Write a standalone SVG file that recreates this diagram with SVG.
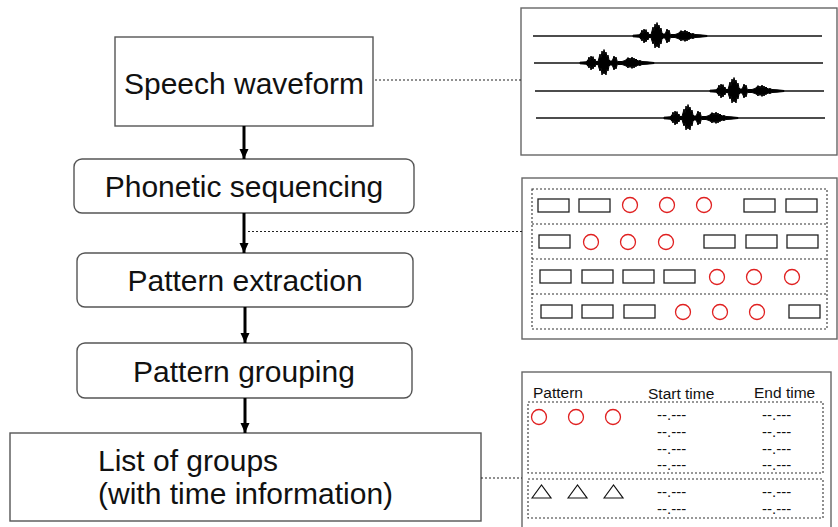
<svg xmlns="http://www.w3.org/2000/svg" width="838" height="527" viewBox="0 0 838 527">
  <style>
    .box { fill: #fff; stroke: #555; stroke-width: 1.4; }
    .panel { fill: #fff; stroke: #666; stroke-width: 1.4; }
    .label { font-family: "Liberation Sans", Arial, Helvetica, sans-serif; font-size: 30px; fill: #111; }
    .small { font-family: "Liberation Sans", Arial, Helvetica, sans-serif; font-size: 15.5px; fill: #111; }
    .time { font-family: "Liberation Sans", Arial, Helvetica, sans-serif; font-size: 15px; fill: #111; }
    .flow { stroke: #000; stroke-width: 3; fill: none; }
    .link { stroke: #222; stroke-width: 1.1; stroke-dasharray: 2 2; fill: none; }
    .group { stroke: #333; stroke-width: 1.1; stroke-dasharray: 2 2; fill: none; }
    .seg { fill: #fff; stroke: #222; stroke-width: 1.3; }
    .phon { fill: none; stroke: #e02020; stroke-width: 1.3; }
    .tri { fill: none; stroke: #111; stroke-width: 1.2; }
    .trace { stroke: #111; stroke-width: 1.4; }
  </style>
  <defs>
    <marker id="head" markerWidth="10" markerHeight="10" viewBox="0 0 10 10" refX="10" refY="5" orient="auto" markerUnits="userSpaceOnUse">
      <path d="M0,0.5 L10,5 L0,9.5 Z" fill="#000"/>
    </marker>
    <filter id="soft" x="-10%" y="-30%" width="120%" height="160%">
      <feGaussianBlur stdDeviation="0.45"/>
    </filter>
    <!-- one spoken word: four bursts with a fading tail -->
    <path id="burst" fill="#000" stroke="#000" stroke-width="1" stroke-linejoin="round" filter="url(#soft)"
      d="M-12,-0.8 L-6,-1.2 L-4,-3 L-3,-6 L-2,-2.5 L-1,-7 L0,-4 L1,-6.5 L2,-3 L3,-4 L4,-1.5 L6,-1.5 L7,-5 L8,-9 L9,-5 L10,-12 L11,-8 L12,-13.5 L13,-9 L14,-11 L15,-6 L16,-8 L17,-3 L18,-2 L20,-2 L21,-4 L22,-7 L23,-4 L24,-6 L25,-2.5 L26,-1.5 L30,-1.5 L33,-2.5 L35,-4 L36,-5.5 L37,-3.5 L38,-5 L39,-3 L40,-6 L41,-3.5 L42,-5 L43,-3 L44,-4 L46,-2 L48,-2.5 L50,-1.5 L55,-1.2 L62,-0.5
         L62,0.5 L55,1.2 L50,1.5 L48,2.5 L46,2 L44,3.5 L43,3 L42,5 L41,3 L40,5.5 L39,3 L38,4.5 L37,3 L36,5 L35,3.5 L33,2.5 L30,1.5 L26,1.5 L25,2.5 L24,6 L23,4 L22,7 L21,4 L20,2 L18,2 L17,3 L16,8 L15,6 L14,12 L13,9 L12,11 L11,8 L10,12 L9,5 L8,8 L7,5 L6,1.5 L4,1.5 L3,4 L2,3 L1,6 L0,4 L-1,7 L-2,2.5 L-3,5 L-4,3 L-6,1.2 L-12,0.8 Z"/>
  </defs>

  <rect width="838" height="527" fill="#fff"/>

  <!-- processing steps -->
  <g id="speech-waveform">
    <rect class="box" x="115" y="37" width="258" height="89"/>
    <text class="label" x="244" y="94" text-anchor="middle">Speech waveform</text>
  </g>
  <g id="phonetic-sequencing">
    <rect class="box" x="74" y="159" width="340" height="54" rx="8"/>
    <text class="label" x="244" y="197" text-anchor="middle">Phonetic sequencing</text>
  </g>
  <g id="pattern-extraction">
    <rect class="box" x="77" y="253" width="336" height="54" rx="8"/>
    <text class="label" x="245" y="291" text-anchor="middle">Pattern extraction</text>
  </g>
  <g id="pattern-grouping">
    <rect class="box" x="77" y="343" width="335" height="55" rx="8"/>
    <text class="label" x="244" y="382" text-anchor="middle">Pattern grouping</text>
  </g>
  <g id="list-of-groups">
    <rect class="box" x="10" y="433" width="471" height="88"/>
    <text class="label" x="98" y="471">List of groups</text>
    <text class="label" x="98" y="504">(with time information)</text>
  </g>

  <!-- waveform panel -->
  <g id="waveform-panel">
    <rect class="panel" x="521" y="8" width="316" height="147"/>
    <line class="trace" x1="533" y1="36" x2="822" y2="36"/>
    <line class="trace" x1="534" y1="63" x2="823" y2="63"/>
    <line class="trace" x1="535" y1="91" x2="824" y2="91"/>
    <line class="trace" x1="536" y1="118" x2="825" y2="118"/>
    <use href="#burst" x="645" y="36"/>
    <use href="#burst" x="592" y="63"/>
    <use href="#burst" x="722" y="91"/>
    <use href="#burst" x="676" y="118"/>
  </g>

  <!-- phonetic sequence panel -->
  <g id="sequence-panel">
    <rect class="panel" x="522" y="178" width="315" height="161"/>
    <rect class="group" x="532" y="189" width="295" height="140"/>
    <line class="group" x1="532" y1="224" x2="827" y2="224"/>
    <line class="group" x1="532" y1="259" x2="827" y2="259"/>
    <line class="group" x1="532" y1="294" x2="827" y2="294"/>
    <!-- row 1 -->
    <rect class="seg" x="538" y="199" width="31" height="13"/>
    <rect class="seg" x="579" y="199" width="31" height="13"/>
    <circle class="phon" cx="630" cy="205" r="7.5"/>
    <circle class="phon" cx="667" cy="205" r="7.5"/>
    <circle class="phon" cx="704" cy="205" r="7.5"/>
    <rect class="seg" x="744" y="199" width="31" height="13"/>
    <rect class="seg" x="786" y="199" width="31" height="13"/>
    <!-- row 2 -->
    <rect class="seg" x="539" y="235" width="31" height="13"/>
    <circle class="phon" cx="591" cy="242" r="7.5"/>
    <circle class="phon" cx="628" cy="242" r="7.5"/>
    <circle class="phon" cx="666" cy="242" r="7.5"/>
    <rect class="seg" x="704" y="235" width="31" height="13"/>
    <rect class="seg" x="746" y="235" width="31" height="13"/>
    <rect class="seg" x="787" y="235" width="31" height="13"/>
    <!-- row 3 -->
    <rect class="seg" x="540" y="270" width="31" height="13"/>
    <rect class="seg" x="582" y="270" width="31" height="13"/>
    <rect class="seg" x="623" y="270" width="31" height="13"/>
    <rect class="seg" x="664" y="270" width="31" height="13"/>
    <circle class="phon" cx="717" cy="277" r="7.5"/>
    <circle class="phon" cx="754" cy="277" r="7.5"/>
    <circle class="phon" cx="792" cy="277" r="7.5"/>
    <!-- row 4 -->
    <rect class="seg" x="541" y="305" width="31" height="13"/>
    <rect class="seg" x="582" y="305" width="31" height="13"/>
    <rect class="seg" x="624" y="305" width="31" height="13"/>
    <circle class="phon" cx="683" cy="312" r="7.5"/>
    <circle class="phon" cx="720" cy="312" r="7.5"/>
    <circle class="phon" cx="757" cy="312" r="7.5"/>
    <rect class="seg" x="789" y="305" width="31" height="13"/>
  </g>

  <!-- group list panel -->
  <g id="group-panel">
    <rect class="panel" x="522" y="372" width="309" height="160"/>
    <text class="small" x="533" y="398">Pattern</text>
    <text class="small" x="648" y="399">Start time</text>
    <text class="small" x="754" y="398">End time</text>
    <rect class="group" x="528" y="402" width="295" height="71"/>
    <circle class="phon" cx="539" cy="417" r="7.5"/>
    <circle class="phon" cx="576" cy="417" r="7.5"/>
    <circle class="phon" cx="613" cy="417" r="7.5"/>
    <g class="time">
      <text x="657" y="420">--.---</text>
      <text x="657" y="437">--.---</text>
      <text x="657" y="454">--.---</text>
      <text x="657" y="470">--.---</text>
      <text x="762" y="420">--.---</text>
      <text x="762" y="437">--.---</text>
      <text x="762" y="454">--.---</text>
      <text x="762" y="470">--.---</text>
    </g>
    <rect class="group" x="528" y="479" width="295" height="39"/>
    <path class="tri" d="M532,498 L541.5,485 L551,498 Z"/>
    <path class="tri" d="M568,498 L577.5,485 L587,498 Z"/>
    <path class="tri" d="M604,498 L613.5,485 L623,498 Z"/>
    <g class="time">
      <text x="657" y="497">--.---</text>
      <text x="657" y="514">--.---</text>
      <text x="762" y="497">--.---</text>
      <text x="762" y="514">--.---</text>
    </g>
  </g>

  <!-- connectors -->
  <g id="connectors">
    <line class="flow" x1="244" y1="126" x2="244" y2="159" marker-end="url(#head)"/>
    <line class="flow" x1="244" y1="213" x2="244" y2="253" marker-end="url(#head)"/>
    <line class="flow" x1="245" y1="307" x2="245" y2="343" marker-end="url(#head)"/>
    <line class="flow" x1="245" y1="398" x2="245" y2="433" marker-end="url(#head)"/>
    <line class="link" x1="375" y1="80" x2="521" y2="80"/>
    <line class="link" x1="248" y1="231.5" x2="522" y2="231.5"/>
    <line class="link" x1="481" y1="478" x2="522" y2="478"/>
  </g>
</svg>
